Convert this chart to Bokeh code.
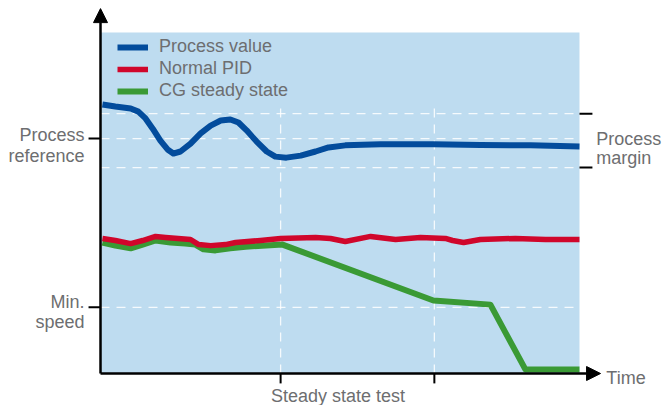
from bokeh.plotting import figure
from bokeh.models import Range1d, Arrow, NormalHead, Legend, LegendItem
from bokeh.core.properties import value
from bokeh.embed import file_html
from bokeh.resources import INLINE

# ---- data (time 0..100, value 0..100 inside the shaded area) ----
pv_t = [0.4, 3.1, 6.3, 7.9, 9.4, 10.9, 12.5, 14.0, 15.2, 16.7, 18.8, 20.9, 23.0, 25.1, 27.1,
        28.8, 30.5, 32.6, 34.7, 36.5, 38.8, 41.8, 44.9, 47.6, 51.1, 58.5, 69.5, 79.3, 89.8, 100]
pv_y = [78.9, 78.3, 77.7, 76.8, 74.8, 71.8, 68.3, 65.7, 64.5, 65.1, 67.4, 70.4, 72.7, 74.2, 74.5,
        73.6, 71.3, 68.0, 65.1, 63.6, 63.3, 63.9, 65.1, 66.3, 66.9, 67.2, 67.2, 67.0, 66.9, 66.6]

pid_t = [0.4, 3.1, 6.3, 8.8, 11.5, 13.6, 18.8, 20.5, 23.0, 26.1, 28.2, 33.4, 37.6, 44.9, 48.0,
         51.1, 56.4, 61.6, 66.8, 72.0, 73.5, 75.8, 79.3, 86.6, 92.9, 100]
pid_y = [39.6, 39.0, 38.1, 39.0, 40.2, 39.9, 39.3, 37.8, 37.5, 37.8, 38.4, 39.0, 39.6, 39.9, 39.6,
         38.7, 40.2, 39.3, 39.9, 39.6, 39.0, 38.4, 39.3, 39.6, 39.3, 39.3]

cg_t = [0.4, 3.1, 6.3, 8.8, 11.5, 14.6, 17.7, 19.8, 21.5, 24.0, 27.1, 30.3, 38.0, 69.5, 81.4, 88.7, 100]
cg_y = [38.4, 37.5, 36.7, 37.8, 39.0, 38.4, 38.1, 37.8, 36.4, 36.1, 36.7, 37.2, 37.8, 21.4, 20.2, 1.2, 1.2]

series_names = ["Process value", "Normal PID", "CG steady state"]

left_ticks = [68.9, 19.4]          # Process reference, Min. speed
right_ticks = [76.2, 60.4]         # Process margin band
h_guides = [76.2, 68.9, 60.4, 19.4]
v_guides = [37.6, 69.7]
bottom_ticks = [37.6, 69.7]

GRAY = "#6d6e70"
FONT_NAME = "Liberation Sans"
FONT = value(FONT_NAME)
FS = "18px"

p = figure(width=663, height=405, x_range=Range1d(-20.88, 117.54), y_range=Range1d(-9.38, 109.38),
           output_backend="svg", toolbar_location=None, x_axis_type=None, y_axis_type=None,
           min_border=0, outline_line_color=None)
p.background_fill_color = "white"
p.border_fill_color = "white"

# shaded plot area
p.quad(left=[0], right=[100], bottom=[0], top=[100], fill_color="#bedcf0", line_color=None)

# dashed guides
p.segment(x0=[0] * len(h_guides), x1=[100] * len(h_guides), y0=h_guides, y1=h_guides,
          line_color="white", line_alpha=0.85, line_width=1.3, line_dash="9 7")
p.segment(x0=v_guides, x1=v_guides, y0=[0] * len(v_guides), y1=[79.2] * len(v_guides),
          line_color="white", line_alpha=0.85, line_width=1.3, line_dash="9 7")

# series
g = p.line(cg_t, cg_y, line_color="#3a9a35", line_width=6, line_join="round")
r = p.line(pid_t, pid_y, line_color="#d0062b", line_width=5.5, line_join="round")
b = p.line(pv_t, pv_y, line_color="#034c9c", line_width=6, line_join="round")

# axes with arrows
p.add_layout(Arrow(end=NormalHead(size=14, fill_color="black", line_color="black", line_width=1),
                   x_start=0, y_start=0, x_end=0, y_end=107, line_width=2.5, line_color="black"))
p.add_layout(Arrow(end=NormalHead(size=14, fill_color="black", line_color="black", line_width=1),
                   x_start=0, y_start=0, x_end=104.4, y_end=0, line_width=2.5, line_color="black"))

# ticks
p.segment(x0=[-2.5] * 2, x1=[0] * 2, y0=left_ticks, y1=left_ticks, line_color="black", line_width=2)
p.segment(x0=[100] * 2, x1=[102.7] * 2, y0=right_ticks, y1=right_ticks, line_color="black", line_width=2)
p.segment(x0=bottom_ticks, x1=bottom_ticks, y0=[0] * 2, y1=[-2.9] * 2, line_color="black", line_width=2)

# labels
p.text(x=[-3.34, -3.34, -3.34, -3.34], y=[69.8, 63.9, 20.9, 15.2],
       text=["Process", "reference", "Min.", "speed"], text_font=FONT, text_font_size=FS,
       text_color=GRAY, text_align="right", text_baseline="alphabetic")
p.text(x=[103.5, 103.5], y=[68.8, 63.3], text=["Process", "margin"], text_font=FONT,
       text_font_size=FS, text_color=GRAY, text_align="left", text_baseline="alphabetic")
p.text(x=[105.6], y=[-1.17], text=["Time"], text_font=FONT, text_font_size=FS,
       text_color=GRAY, text_align="left", text_baseline="alphabetic")
p.text(x=[49.6], y=[-6.45], text=["Steady state test"], text_font=FONT, text_font_size=FS,
       text_color=GRAY, text_align="center", text_baseline="alphabetic")

legend = Legend(items=[LegendItem(label=series_names[0], renderers=[b]),
                       LegendItem(label=series_names[1], renderers=[r]),
                       LegendItem(label=series_names[2], renderers=[g])],
                location=(117, 304), glyph_width=31, glyph_height=20, label_height=20,
                spacing=1, padding=0, margin=0, label_standoff=11,
                border_line_color=None, background_fill_alpha=0,
                label_text_font=FONT_NAME, label_text_font_size=FS, label_text_color=GRAY)
p.add_layout(legend)

open("out.html", "w").write(file_html(p, INLINE))
